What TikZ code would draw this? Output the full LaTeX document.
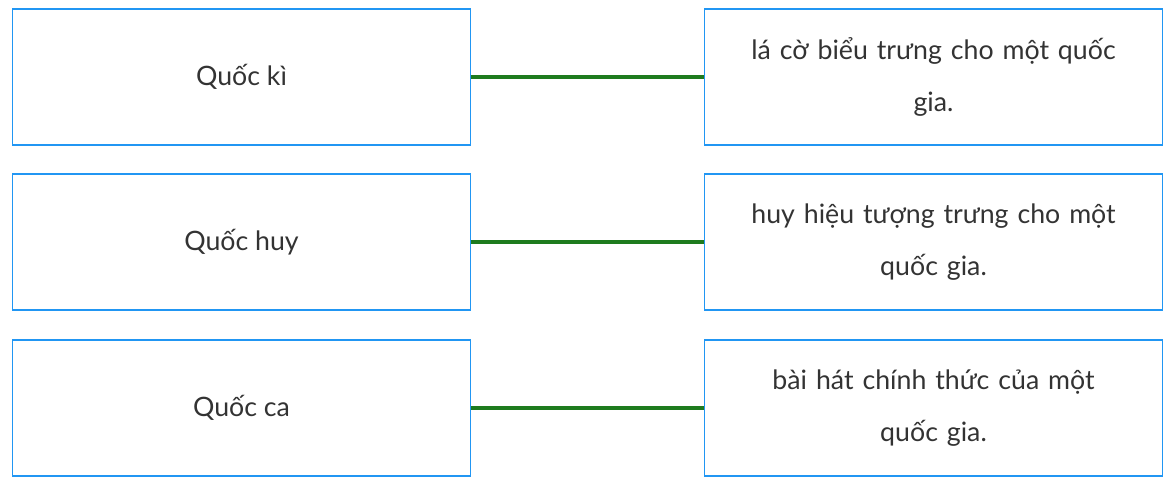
\documentclass[tikz,border=0pt]{standalone}
\usepackage{fontspec}
\setmainfont{Lato}
\usetikzlibrary{positioning}
\definecolor{boxblue}{HTML}{2196F3}
\definecolor{linkgreen}{HTML}{1E7B1E}
\definecolor{txt}{HTML}{333333}
\begin{document}
\begin{tikzpicture}[
  x=0.025cm, y=-0.025cm,
  termbox/.style={
    rectangle, draw=boxblue, thick, minimum width=11.45cm, minimum height=3.4cm,
    text=txt, font=\fontsize{19}{37}\selectfont, align=center
  },
  defbox/.style={termbox, text width=10.2cm},
  link/.style={linkgreen, line width=2.2pt}
]
\useasboundingbox (0,0) rectangle (1172,490);

% === Left column ===
\node[termbox] (ki)  at (241.5, 77)  {Quốc kì};
\node[termbox] (huy) at (241.5, 242) {Quốc huy};
\node[termbox] (ca)  at (241.5, 408) {Quốc ca};

% === Right column ===
\node[defbox] (coflag)  at (933.5, 77)  {lá cờ biểu trưng cho một quốc\\gia.};
\node[defbox] (emblem)  at (933.5, 242) {huy hiệu tượng trưng cho một\\quốc gia.};
\node[defbox] (anthem)  at (933.5, 408) {bài hát chính thức của một\\quốc gia.};

% === Links ===
\draw[link] (ki) -- (coflag);
\draw[link] (huy) -- (emblem);
\draw[link] (ca) -- (anthem);
\end{tikzpicture}
\end{document}
